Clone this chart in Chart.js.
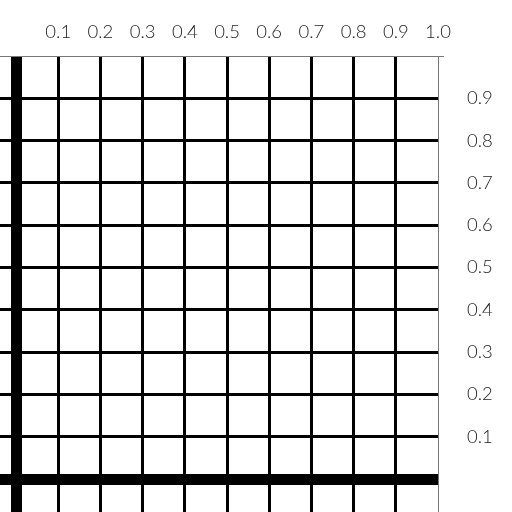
<!DOCTYPE html>
<html><head><meta charset="utf-8">
<script src="https://cdn.jsdelivr.net/npm/chart.js@4"></script>
<style>html,body{margin:0;padding:0;background:#fff;overflow:hidden;}#wrap{width:512px;height:512px;}</style>
</head><body><div id="wrap"><canvas id="c" width="512" height="512"></canvas></div>
<script>
const xTickValues = [0, 0.1, 0.2, 0.3, 0.4, 0.5, 0.6, 0.7, 0.8, 0.9, 1.0];
const yTickValues = [0, 0.1, 0.2, 0.3, 0.4, 0.5, 0.6, 0.7, 0.8, 0.9, 1.0];
const xLabelled = [0.1, 0.2, 0.3, 0.4, 0.5, 0.6, 0.7, 0.8, 0.9, 1.0];
const yLabelled = [0.1, 0.2, 0.3, 0.4, 0.5, 0.6, 0.7, 0.8, 0.9];
const xRange = [-0.038, 1.0];
const yRange = [-0.078, 1.0];

const near = (a, b) => Math.abs(a - b) < 1e-6;
function lw(ctx) {
  const v = ctx.tick ? ctx.tick.value : 0;
  if (near(v, 0)) return 11;
  if (near(v, 1)) return 1;
  return 3;
}
function lc(ctx) {
  const v = ctx.tick ? ctx.tick.value : 0;
  if (near(v, 1)) return '#777';
  return '#000';
}
const tickFont = {family: 'Lato', size: 18.5, weight: 300};

new Chart(document.getElementById('c'), {
  type: 'scatter',
  data: {datasets: [{data: [], showLine: false}]},
  options: {
    responsive: false,
    animation: false,
    devicePixelRatio: 1,
    layout: {padding: 0},
    plugins: {legend: {display: false}, tooltip: {enabled: false}},
    scales: {
      x: {
        type: 'linear', position: 'top', min: xRange[0], max: xRange[1],
        afterBuildTicks: s => { s.ticks = xTickValues.map(v => ({value: v})); },
        afterFit: s => { s.height = 56; s.paddingLeft = 0; s.paddingRight = 0; },
        grid: {color: lc, lineWidth: lw, drawTicks: false},
        border: {display: true, color: '#777', width: 1},
        ticks: {
          padding: 13, color: '#222', font: tickFont, maxRotation: 0, autoSkip: false,
          callback: v => xLabelled.some(t => near(t, v)) ? v.toFixed(1) : ''
        }
      },
      y: {
        type: 'linear', position: 'right', min: yRange[0], max: yRange[1],
        afterBuildTicks: s => { s.ticks = yTickValues.map(v => ({value: v})); },
        afterFit: s => { s.width = 74; s.paddingTop = 0; s.paddingBottom = 0; },
        grid: {color: lc, lineWidth: lw, drawTicks: false},
        border: {display: true, color: '#777', width: 1},
        ticks: {
          padding: 29, color: '#222', font: tickFont, autoSkip: false,
          callback: v => yLabelled.some(t => near(t, v)) ? v.toFixed(1) : ''
        }
      }
    }
  }
});
</script></body></html>
